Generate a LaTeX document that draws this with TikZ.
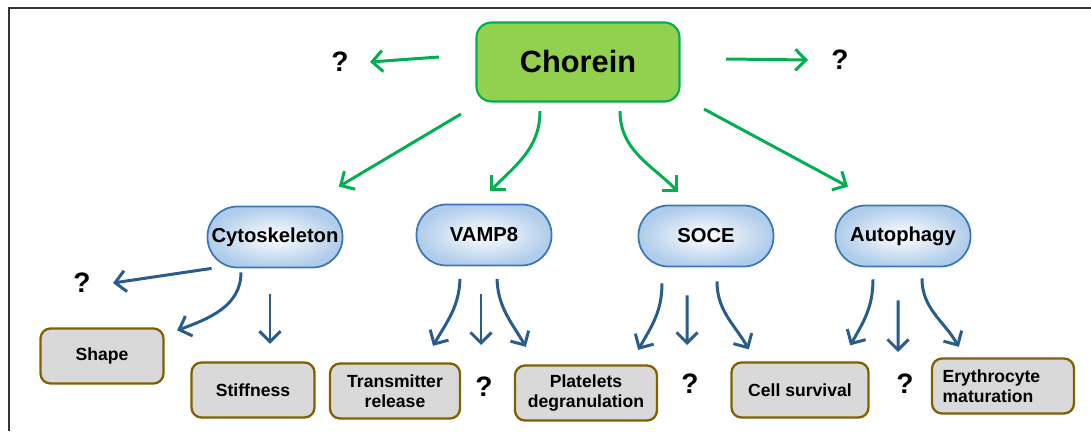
\documentclass[tikz,border=0pt]{standalone}
\usepackage{fontspec}
\setmainfont{Liberation Sans}
\usepackage{xcolor}
\definecolor{choreingreen}{HTML}{92D050}
\definecolor{arrwgreen}{HTML}{00B050}
\definecolor{pillblue}{HTML}{3D76B5}
\definecolor{pillblue-light}{HTML}{AFCCEA}
\definecolor{arrwblue}{HTML}{285C8B}
\definecolor{outgray}{HTML}{D9D9D9}
\definecolor{outbrown}{HTML}{806000}
\usetikzlibrary{arrows.meta}
\tikzset{
  % --- NODES ---
  chorein-box/.style={
    fill=choreingreen,
    draw=arrwgreen,
    line width=1.2pt,
    rounded corners=0.3cm,
    minimum width=4.06cm,
    minimum height=1.58cm,
    font=\fontsize{17.5}{20}\selectfont\bfseries
  },
  pill/.style={
    draw=pillblue,
    line width=1pt,
    rounded corners=0.6cm,
    inner color=white,
    outer color=pillblue-light,
    minimum width=2.70cm,
    minimum height=1.22cm,
    inner sep=0pt,
    font=\fontsize{11.5}{13}\selectfont\bfseries
  },
  outcome/.style={
    fill=outgray,
    draw=outbrown,
    line width=1.3pt,
    rounded corners=0.2cm,
    minimum height=1.10cm,
    inner sep=2pt,
    align=center,
    font=\fontsize{10}{11.5}\selectfont\bfseries
  },
  qmark/.style={
    font=\fontsize{16}{16}\selectfont\bfseries
  },
  % --- ARROWS ---
  green-arrw/.style={
    draw=arrwgreen,
    line width=1.7pt,
    -{Straight Barb[length=6pt,width=12pt]}
  },
  blue-arrw/.style={
    draw=arrwblue,
    line width=1.7pt,
    -{Straight Barb[length=6pt,width=12pt]}
  },
  % --- FRAME ---
  frame-line/.style={
    draw=black!80,
    line width=0.04cm
  },
}

\begin{document}
\begin{tikzpicture}
  \useasboundingbox (0,0) rectangle (21.82,8.62);
  % --- frame (top and left only)
  \draw[frame-line] (0.18,0) |- (21.82,8.46);
  % --- top
  \node[chorein-box] (chorein) at (11.56, 7.38) {Chorein};
  \node[qmark] (qL) at (6.80, 7.38) {?};
  \node[qmark] (qR) at (16.80, 7.42) {?};
  % --- pathways
  \node[pill] (cyto) at (5.50, 3.88) {Cytoskeleton};
  \node[pill] (vamp) at (9.68, 3.92) {VAMP8};
  \node[pill] (soce) at (14.12, 3.90) {SOCE};
  \node[pill] (auto) at (18.06, 3.90) {Autophagy};
  % --- outcomes
  \node[outcome, minimum width=2.46cm] (shape) at (2.04, 1.50) {Shape};
  \node[outcome, minimum width=2.46cm] (stiff) at (5.06, 0.82) {Stiffness};
  \node[outcome, minimum width=2.60cm] (trans) at (7.90, 0.80) {Transmitter\\release};
  \node[outcome, minimum width=2.84cm] (plat) at (11.72, 0.76) {Platelets\\degranulation};
  \node[outcome, minimum width=2.74cm] (cell) at (16.00, 0.82) {Cell survival};
  \node[outcome, minimum width=2.84cm, align=left] (ery) at (20.06, 0.90) {Erythrocyte\\maturation\hspace*{0.6cm}};
  \node[qmark] (qcyto) at (1.64, 2.96) {?};
  \node[qmark] (qvamp) at (9.68, 0.88) {?};
  \node[qmark] (qsoce) at (13.80, 0.94) {?};
  \node[qmark] (qauto) at (18.10, 0.94) {?};
  % --- chorein arrows
  \draw[green-arrw] ([shift={(-0.73,0.10)}]chorein.west) -- ([xshift=0.60cm]qL.center);
  \draw[green-arrw] ([shift={(0.91,0.06)}]chorein.east) -- ([xshift=-0.64cm]qR.center);
  \draw[green-arrw] ([shift={(-0.29,-0.23)}]chorein.south west) -- ([shift={(-0.09,0.38)}]cyto.north east);
  \draw[green-arrw] ([shift={(-0.76,-0.17)}]chorein.south) to[out=-90, in=45] ([shift={(0.12,0.25)}]vamp.north);
  \draw[green-arrw] ([shift={(0.84,-0.17)}]chorein.south) to[out=-90, in=135] ([shift={(-0.56,0.26)}]soce.north);
  \draw[green-arrw] ([shift={(0.47,-0.13)}]chorein.south east) -- ([shift={(-1.10,0.36)}]auto.north);
  % --- cytoskeleton arrows
  \draw[blue-arrw] ([xshift=0.10cm]cyto.south west) -- ([xshift=0.62cm]qcyto.center);
  \draw[blue-arrw] ([shift={(-0.68,-0.08)}]cyto.south) to[out=-90, in=20] ([shift={(0.25,-0.06)}]shape.north east);
  \draw[blue-arrw] ([shift={(-0.10,-0.52)}]cyto.south) -- ([shift={(0.34,0.35)}]stiff.north);
  % --- vamp8 arrows
  \draw[blue-arrw] ([shift={(-0.48,-0.25)}]vamp.south) to[out=-92, in=60] ([shift={(0.76,0.33)}]trans.north);
  \draw[blue-arrw] ([shift={(-0.06,-0.55)}]vamp.south) -- ([shift={(-0.06,0.84)}]qvamp.center);
  \draw[blue-arrw] ([shift={(0.26,-0.25)}]vamp.south) to[out=-88, in=120] ([shift={(0.24,0.35)}]plat.north west);
  % --- soce arrows
  \draw[blue-arrw] ([shift={(-0.88,-0.32)}]soce.south) to[out=-90, in=60] ([shift={(-0.40,0.29)}]plat.north east);
  \draw[blue-arrw] ([shift={(-0.38,-0.56)}]soce.south) -- ([shift={(-0.06,0.78)}]qsoce.center);
  \draw[blue-arrw] ([shift={(0.22,-0.28)}]soce.south) to[out=-90, in=120] ([shift={(0.37,0.24)}]cell.north west);
  % --- autophagy arrows
  \draw[blue-arrw] ([shift={(-0.60,-0.24)}]auto.south) to[out=-90, in=60] ([shift={(-0.39,0.32)}]cell.north east);
  \draw[blue-arrw] ([shift={(-0.10,-0.66)}]auto.south) -- ([shift={(-0.14,0.64)}]qauto.center);
  \draw[blue-arrw] ([shift={(0.38,-0.22)}]auto.south) to[out=-90, in=120] ([shift={(0.56,0.21)}]ery.north west);
\end{tikzpicture}
\end{document}
